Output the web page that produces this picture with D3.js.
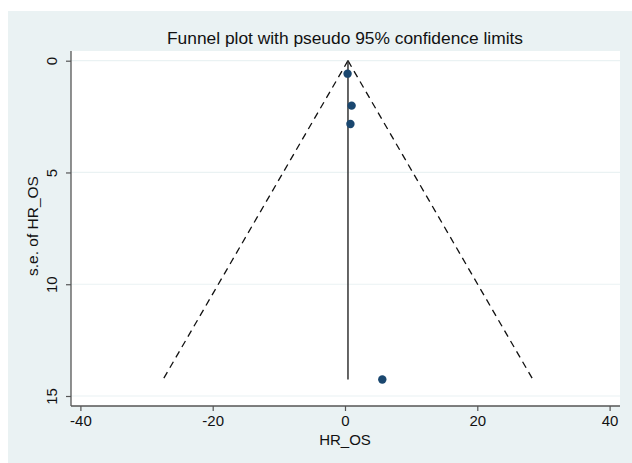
<!DOCTYPE html>
<html>
<head>
<meta charset="utf-8">
<script src="https://cdn.jsdelivr.net/npm/d3@7"></script>
<style>
  body { margin: 0; background: #fff; }
  text { font-family: "Liberation Sans", Arial, sans-serif; fill: #111; }
</style>
</head>
<body>
<svg id="chart"></svg>
<script>
// study estimates (HR_OS) and their standard errors
var hr = [0.39, 1.0, 0.82, 5.64];
var se = [0.58, 2.01, 2.83, 14.26];
var pooled = 0.45;
var xTicks = [-40, -20, 0, 20, 40];
var yTicks = [0, 5, 10, 15];

var width = 632, height = 463;
var margin = {left: 71, right: 12, top: 51, bottom: 57};

var svg = d3.select("#chart")
  .attr("width", width)
  .attr("height", height);

// stata style outer background
svg.append("rect")
  .attr("x", 8).attr("y", 11)
  .attr("width", width - 8).attr("height", height - 11)
  .attr("fill", "#eaf2f3");

svg.append("rect")
  .attr("x", margin.left).attr("y", margin.top)
  .attr("width", width - margin.left - margin.right)
  .attr("height", height - margin.top - margin.bottom)
  .attr("fill", "#fff");

var x = d3.scaleLinear()
  .domain([-40, 40])
  .range([80.4, 609.6]);

var y = d3.scaleLinear()
  .domain([0, 15])
  .range([60.7, 396]);

var plotBottom = height - margin.bottom;
var fmt = function(d) { return String(d); }; // plain hyphen, not U+2212

// grid
svg.selectAll(".grid")
  .data(yTicks)
  .enter()
  .append("line")
  .attr("x1", margin.left).attr("x2", width - margin.right)
  .attr("y1", function(d) { return y(d); })
  .attr("y2", function(d) { return y(d); })
  .attr("stroke", "#eaf2f3")
  .attr("stroke-width", 1.2);

var xAxis = svg.append("g")
  .attr("transform", "translate(0," + plotBottom + ")")
  .call(d3.axisBottom(x).tickValues(xTicks).tickFormat(fmt).tickSize(5).tickPadding(4));

var yAxis = svg.append("g")
  .attr("transform", "translate(" + margin.left + ",0)")
  .call(d3.axisLeft(y).tickValues(yTicks).tickFormat(fmt).tickSize(5).tickPadding(3));

[xAxis, yAxis].forEach(function(g) {
  g.select(".domain").remove();
  g.selectAll("line").attr("stroke", "#555").attr("stroke-width", 1.2);
  g.selectAll("text").attr("font-size", 15).attr("fill", "#111")
    .attr("font-family", "Liberation Sans, Arial, sans-serif");
});

yAxis.selectAll("text")
  .attr("text-anchor", "middle")
  .attr("dy", 0)
  .attr("x", 0)
  .attr("transform", "translate(-14,0) rotate(-90)");

// axis lines
svg.append("line")
  .attr("x1", margin.left).attr("x2", width - margin.right)
  .attr("y1", plotBottom).attr("y2", plotBottom)
  .attr("stroke", "#555").attr("stroke-width", 1.3);
svg.append("line")
  .attr("x1", margin.left).attr("x2", margin.left)
  .attr("y1", margin.top).attr("y2", plotBottom)
  .attr("stroke", "#555").attr("stroke-width", 1.3);

// pseudo 95% limits
var maxSe = d3.max(se);
var left = [[pooled, 0], [pooled - 1.96 * maxSe, maxSe]];
var right = [[pooled, 0], [pooled + 1.96 * maxSe, maxSe]];
var line = d3.line()
  .x(function(d) { return x(d[0]); })
  .y(function(d) { return y(d[1]); });

[left, right].forEach(function(l) {
  svg.append("path")
    .attr("d", line(l))
    .attr("fill", "none")
    .attr("stroke", "#111")
    .attr("stroke-width", 1.3)
    .attr("stroke-dasharray", "7,5");
});

svg.append("path")
  .attr("d", line([[pooled, 0], [pooled, maxSe]]))
  .attr("stroke", "#333")
  .attr("stroke-width", 1.5);

svg.selectAll("circle")
  .data(hr)
  .enter()
  .append("circle")
  .attr("cx", function(d) { return x(d); })
  .attr("cy", function(d, i) { return y(se[i]); })
  .attr("r", 4.2)
  .attr("fill", "#1a476f");

svg.append("text")
  .attr("x", 167).attr("y", 43.5)
  .attr("font-size", 16)
  .attr("textLength", 356)
  .attr("lengthAdjust", "spacingAndGlyphs")
  .text("Funnel plot with pseudo 95% confidence limits");

svg.append("text")
  .attr("x", 345).attr("y", 445)
  .attr("text-anchor", "middle")
  .attr("font-size", 15)
  .text("HR_OS");

svg.append("text")
  .attr("transform", "translate(38,226) rotate(-90)")
  .attr("text-anchor", "middle")
  .attr("font-size", 15.5)
  .text("s.e. of HR_OS");
</script>
</body>
</html>
